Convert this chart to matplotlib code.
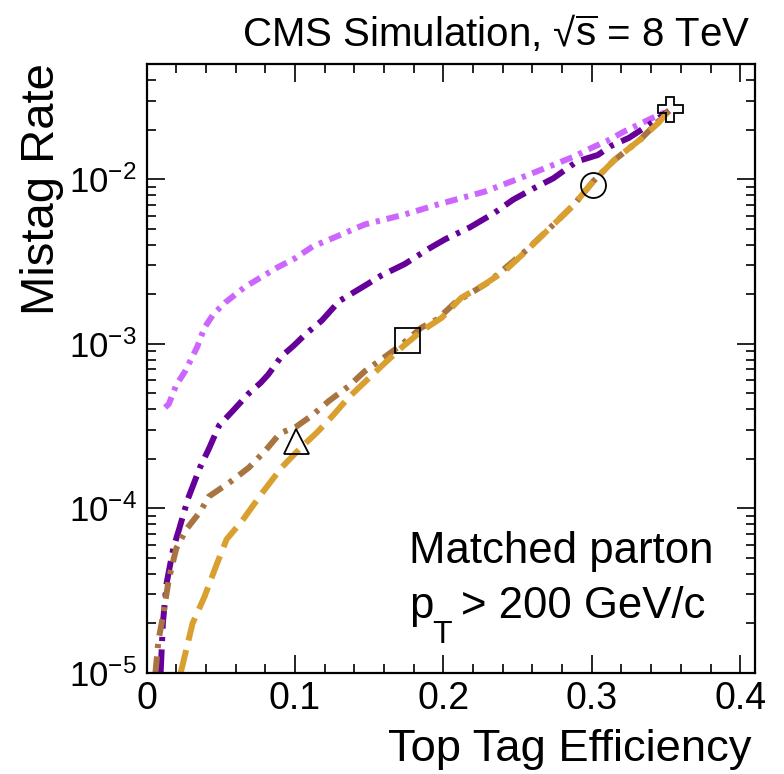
import matplotlib
matplotlib.use("Agg")
import matplotlib.pyplot as plt
from matplotlib.ticker import MultipleLocator, LogLocator, NullFormatter, FuncFormatter

plt.rcParams['font.family'] = ['Liberation Sans', 'DejaVu Sans']
plt.rcParams['mathtext.fontset'] = 'custom'
plt.rcParams['mathtext.rm'] = 'Liberation Sans'
plt.rcParams['mathtext.it'] = 'Liberation Sans:italic'
plt.rcParams['mathtext.bf'] = 'Liberation Sans:bold'
plt.rcParams['mathtext.default'] = 'regular'
plt.rcParams['axes.unicode_minus'] = False
plt.rcParams['lines.scale_dashes'] = False

# light violet curve (dash-dot-dot)
x_violet = [0.0125, 0.015, 0.020, 0.026, 0.034, 0.039, 0.045, 0.053, 0.066, 0.077,
            0.088, 0.100, 0.112, 0.126, 0.147, 0.174, 0.196, 0.228, 0.250, 0.268,
            0.288, 0.300, 0.310, 0.322, 0.345, 0.352]
y_violet = [4.1e-4, 4.3e-4, 5.6e-4, 6.8e-4, 9.5e-4, 1.25e-3, 1.51e-3, 1.78e-3, 2.2e-3, 2.53e-3,
            2.9e-3, 3.3e-3, 3.9e-3, 4.4e-3, 5.3e-3, 6.1e-3, 7.0e-3, 8.4e-3, 1.0e-2, 1.16e-2,
            1.37e-2, 1.55e-2, 1.70e-2, 1.95e-2, 2.45e-2, 2.6e-2]

# dark purple curve (dash-dot)
x_purple = [0.0095, 0.011, 0.0135, 0.018, 0.022, 0.028, 0.036, 0.042, 0.049, 0.058,
            0.069, 0.077, 0.082, 0.091, 0.099, 0.107, 0.118, 0.130, 0.147, 0.158,
            0.174, 0.190, 0.201, 0.218, 0.234, 0.247, 0.261, 0.274, 0.290, 0.304,
            0.313, 0.325, 0.339, 0.352]
y_purple = [1.0e-5, 2.0e-5, 3.5e-5, 5.7e-5, 7.5e-5, 1.15e-4, 1.77e-4, 2.3e-4, 3.2e-4, 3.9e-4,
            5.0e-4, 5.8e-4, 6.5e-4, 8.4e-4, 9.7e-4, 1.14e-3, 1.38e-3, 1.82e-3, 2.25e-3, 2.59e-3,
            3.05e-3, 3.77e-3, 4.3e-3, 5.1e-3, 6.2e-3, 7.5e-3, 8.8e-3, 1.01e-2, 1.28e-2, 1.40e-2,
            1.59e-2, 1.78e-2, 2.15e-2, 2.6e-2]

# brown curve (dash-dot)
x_brown = [0.006, 0.008, 0.011, 0.015, 0.020, 0.027, 0.036, 0.042, 0.057, 0.069,
           0.080, 0.090, 0.101, 0.112, 0.123, 0.136, 0.147, 0.158, 0.172, 0.185,
           0.196, 0.208, 0.230, 0.256, 0.277, 0.288, 0.301, 0.315, 0.333, 0.352]
y_brown = [1.0e-5, 1.57e-5, 2.2e-5, 3.7e-5, 5.7e-5, 7.5e-5, 9.5e-5, 1.18e-4, 1.46e-4, 1.77e-4,
           2.24e-4, 2.86e-4, 3.14e-4, 3.7e-4, 4.5e-4, 5.5e-4, 6.8e-4, 8.0e-4, 9.9e-4, 1.25e-3,
           1.41e-3, 1.78e-3, 2.35e-3, 3.7e-3, 5.6e-3, 7.0e-3, 9.7e-3, 1.3e-2, 1.75e-2, 2.6e-2]

# gold curve (dashed)
x_gold = [0.023, 0.031, 0.039, 0.047, 0.054, 0.064, 0.077, 0.091, 0.104, 0.115,
          0.126, 0.136, 0.150, 0.161, 0.172, 0.185, 0.199, 0.212, 0.228, 0.242,
          0.255, 0.277, 0.288, 0.301, 0.315, 0.333, 0.345, 0.352]
y_gold = [1.0e-5, 2.0e-5, 2.9e-5, 4.5e-5, 6.5e-5, 8.3e-5, 1.21e-4, 1.77e-4, 2.34e-4, 2.9e-4,
          3.7e-4, 4.7e-4, 6.2e-4, 7.7e-4, 9.5e-4, 1.19e-3, 1.44e-3, 1.9e-3, 2.3e-3, 2.8e-3,
          3.6e-3, 5.6e-3, 7.0e-3, 9.7e-3, 1.3e-2, 1.75e-2, 2.2e-2, 2.6e-2]

# working-point markers
marker_x = [0.101, 0.1757, 0.301, 0.353]
marker_y = [2.55e-4, 1.06e-3, 9.2e-3, 2.65e-2]
marker_shapes = ['^', 's', 'o', 'P']

W, H = 784, 774
fig = plt.figure(figsize=(W / 100, H / 100), dpi=100)
ax = fig.add_axes([0.1869, 0.1305, 0.7762, 0.7868])

lw = 4.3
ax.plot(x_violet, y_violet, color='#cc66ff', lw=lw, dashes=(9, 5, 3, 5))
ax.plot(x_purple, y_purple, color='#660099', lw=lw, dashes=(17, 6, 3, 6))
ax.plot(x_brown, y_brown, color='#a87540', lw=lw, dashes=(12, 6, 3, 6))
ax.plot(x_gold, y_gold, color='#d9a030', lw=lw, dashes=(17, 7))

for mx, my, m in zip(marker_x, marker_y, marker_shapes):
    ax.plot([mx], [my], marker=m, ms=18, mfc='none', mec='black', mew=1.3, ls='none')

ax.set_yscale('log')
ax.set_xlim(0, 0.41)
ax.set_ylim(1e-5, 5e-2)

ax.xaxis.set_major_locator(MultipleLocator(0.1))
ax.xaxis.set_minor_locator(MultipleLocator(0.02))
ax.xaxis.set_major_formatter(FuncFormatter(lambda v, p: '%g' % round(v, 2)))
ax.yaxis.set_major_locator(LogLocator(base=10))
ax.yaxis.set_minor_locator(LogLocator(base=10, subs=range(2, 10)))
ax.yaxis.set_minor_formatter(NullFormatter())

ax.tick_params(which='both', direction='in', top=True, right=True, width=1.2)
ax.tick_params(which='major', length=13)
ax.tick_params(which='minor', length=6.5)
ax.tick_params(axis='x', which='major', pad=6, labelsize=27)
ax.tick_params(axis='y', which='major', pad=7, labelsize=25)
for sp in ax.spines.values():
    sp.set_linewidth(1.6)

# annotation inside the frame
fig.text(409 / W, 1 - 563 / H, 'Matched parton', fontsize=31.5, va='baseline')
fig.text(409 / W, 1 - 618 / H, 'p', fontsize=31.5, va='baseline')
fig.text(432 / W, 1 - 643 / H, 'T', fontsize=23, va='baseline')
fig.text(461 / W, 1 - 618 / H, '> 200 GeV/c', fontsize=31.5, va='baseline')

fig.text(750 / W, 1 - 46 / H, r'CMS Simulation, √$\overline{\mathregular{s}}$ = 8 TeV',
         fontsize=29, ha='right', va='baseline')
fig.text(752 / W, 1 - 761 / H, 'Top Tag Efficiency', fontsize=32.7, ha='right', va='baseline')
fig.text(42 / W, 1 - 63 / H, 'Mistag Rate', fontsize=34, rotation=90, ha='center', va='top')

fig.savefig('out.png', dpi=100)
